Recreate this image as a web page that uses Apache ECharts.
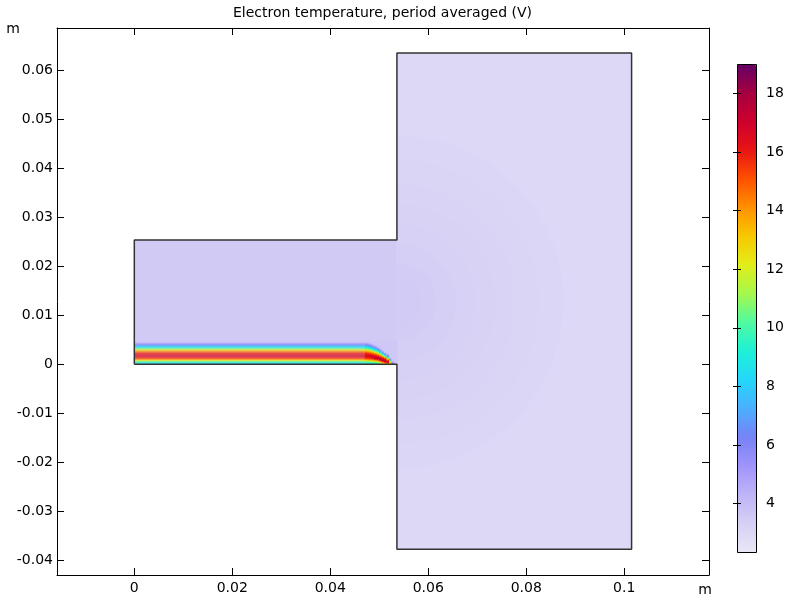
<!DOCTYPE html>
<html>
<head>
<meta charset="utf-8">
<script src="https://cdn.jsdelivr.net/npm/echarts@6/dist/echarts.min.js"></script>
<style>html,body{margin:0;padding:0;background:#fff}#c{width:788px;height:603px}</style>
</head>
<body>
<div id="c"></div>
<script>
// ---- data (metres, volts) ----
const xTicks = [0, 0.02, 0.04, 0.06, 0.08, 0.1];
const yTicks = [-0.04, -0.03, -0.02, -0.01, 0, 0.01, 0.02, 0.03, 0.04, 0.05, 0.06];
const cbTicks = [4, 6, 8, 10, 12, 14, 16, 18];
const teMin = 2.35, teMax = 19.0;

// domain outline
const outlineX = [0, 0.0536, 0.0536, 0.1015, 0.1015, 0.0536, 0.0536, 0, 0];
const outlineY = [0, 0, -0.0378, -0.0378, 0.0636, 0.0636, 0.0254, 0.0254, 0];

// chamber and channel background: [x0, x1, y0, y1, Te]
const chamberBg = [0.0536, 0.1015, -0.0378, 0.0636, 3.0];
const channelBg = [0, 0.0536, 0, 0.0254, 3.55];

// slightly warmer plume spreading from the channel exit into the chamber
const plumeCx = 0.0536, plumeCy = 0.0127;
const plumeR  = [0.034, 0.029, 0.024, 0.020, 0.016, 0.012, 0.008, 0.005];
const plumeTe = [3.06, 3.12, 3.18, 3.24, 3.30, 3.37, 3.44, 3.50];

// hot sheath strip along the lower wall of the channel
const stripEndX = 0.047;
const rowH = 0.0002;
const rowY = [0.0047, 0.0045, 0.0043, 0.0041, 0.0039, 0.0037, 0.0035, 0.0033, 0.0031, 0.0029, 0.0027, 0.0025,
              0.0023, 0.0021, 0.0019, 0.0017, 0.0015, 0.0013, 0.0011, 0.0009, 0.0007, 0.0005, 0.0003, 0.0001];
const stripTe = [3.6, 3.9, 4.6, 5.6, 6.8, 7.8, 8.6, 9.6, 10.8, 12.2, 13.6, 14.6,
                 15.4, 16.0, 16.3, 16.4, 16.3, 15.8, 15.0, 13.8, 12.0, 10.4, 9.4, 8.9];

// rounded end of the strip: column centres and their profiles (same rows as above)
const capW = 0.0005;
const capX = [0.04725, 0.04775, 0.04825, 0.04875, 0.04925, 0.04975, 0.05025,
              0.05075, 0.05125, 0.05175, 0.05225, 0.05275, 0.05325];
const capTe = [
  [3.6, 3.9, 4.6, 5.6, 6.8, 7.8, 8.6, 9.6, 10.8, 12.2, 13.6, 14.6, 15.4, 16.0, 16.3, 16.4, 16.3, 15.8, 15.0, 13.8, 12.0, 10.4, 9.4, 8.9],
  [3.6, 3.75, 4.3, 5.2, 6.3, 7.4, 8.3, 9.2, 10.4, 11.8, 13.2, 14.3, 15.2, 15.9, 16.3, 16.5, 16.4, 15.9, 15.1, 14.0, 12.2, 10.5, 9.4, 8.9],
  [3.6, 3.6, 3.85, 4.5, 5.5, 6.85, 7.85, 8.7, 9.8, 11.1, 12.6, 13.8, 14.8, 15.7, 16.2, 16.5, 16.5, 16.0, 15.3, 14.2, 12.5, 10.8, 9.6, 9.0],
  [3.6, 3.6, 3.6, 3.8, 4.5, 5.5, 6.85, 7.9, 9.0, 10.0, 11.5, 13.0, 14.2, 15.2, 15.9, 16.4, 16.8, 16.7, 15.8, 14.4, 12.7, 10.9, 9.7, 9.1],
  [3.6, 3.6, 3.6, 3.6, 3.8, 4.4, 5.5, 6.9, 8.0, 9.0, 10.4, 11.8, 13.2, 14.5, 15.5, 16.2, 17.0, 17.2, 16.6, 15.0, 13.2, 11.3, 9.9, 9.3],
  [3.6, 3.6, 3.6, 3.6, 3.6, 3.6, 3.9, 4.9, 6.4, 7.7, 8.7, 10.2, 11.6, 13.3, 14.6, 15.8, 16.4, 17.5, 17.1, 15.6, 14.2, 12.2, 10.4, 9.6],
  [3.6, 3.6, 3.6, 3.6, 3.6, 3.6, 3.6, 3.6, 4.2, 5.4, 7.0, 8.3, 9.7, 11.3, 13.0, 14.4, 15.8, 16.4, 17.6, 17.0, 15.5, 13.5, 11.5, 10.5],
  [3.6, 3.6, 3.6, 3.6, 3.6, 3.6, 3.6, 3.6, 3.6, 3.6, 3.9, 5.2, 7.2, 8.6, 10.3, 12.4, 14.2, 15.7, 16.4, 17.5, 17.2, 15.5, 13.5, 12.0],
  [3.6, 3.6, 3.6, 3.6, 3.6, 3.6, 3.6, 3.6, 3.6, 3.6, 3.6, 3.6, 4.2, 6.0, 8.1, 9.9, 12.0, 14.2, 15.8, 16.4, 17.4, 17.0, 15.0, 13.0],
  [3.6, 3.6, 3.6, 3.6, 3.6, 3.6, 3.6, 3.6, 3.6, 3.6, 3.6, 3.6, 3.6, 3.9, 4.8, 6.3, 8.0, 10.0, 12.3, 14.4, 16.0, 16.8, 16.0, 14.0],
  [3.6, 3.6, 3.6, 3.6, 3.6, 3.6, 3.6, 3.6, 3.6, 3.6, 3.6, 3.6, 3.6, 3.6, 3.6, 3.6, 3.6, 4.0, 5.0, 7.0, 9.5, 12.0, 13.5, 13.0],
  [3.6, 3.6, 3.6, 3.6, 3.6, 3.6, 3.6, 3.6, 3.6, 3.6, 3.6, 3.6, 3.6, 3.6, 3.6, 3.6, 3.6, 3.6, 3.6, 3.6, 3.9, 4.5, 5.5, 6.5],
  [3.6, 3.6, 3.6, 3.6, 3.6, 3.6, 3.6, 3.6, 3.6, 3.6, 3.6, 3.6, 3.6, 3.6, 3.6, 3.6, 3.6, 3.6, 3.6, 3.6, 3.6, 3.6, 4.0, 4.3]
];

const cmap = ['#e8e7f5', '#d6d0f5', '#beb4f7', '#a094fa', '#7682f5', '#4bafff', '#23d7fa', '#1ef0d7',
              '#50faa0', '#a5f84b', '#e1ee19', '#f8c800', '#ff9100', '#ff5000', '#e81414', '#cd002d', '#a50041', '#640064'];

// ---- build cells (all items: [x0, x1, y0, y1, Te]) ----
const baseData = [chamberBg.slice()];
const plumeData = plumeR.map((r, i) => [plumeCx, plumeCx + r, plumeCy - r, plumeCy + r, plumeTe[i]]);
const fieldData = [channelBg.slice()];
rowY.forEach((y, i) => fieldData.push([0, stripEndX, y - rowH / 2, y + rowH / 2, stripTe[i]]));
capX.forEach((x, j) => rowY.forEach((y, i) =>
  fieldData.push([x - capW / 2, x + capW / 2, y - rowH / 2, y + rowH / 2, capTe[j][i]])));

function rectItem(params, api) {
  const a = api.coord([api.value(0), api.value(3)]);
  const b = api.coord([api.value(1), api.value(2)]);
  const big = (b[0] - a[0]) > 50;          // background panels: exact edges
  const pad = big ? 0 : 0.8;               // small cells overlap slightly to avoid seams
  return {
    type: 'rect',
    shape: { x: a[0], y: a[1], width: b[0] - a[0] + pad, height: b[1] - a[1] + pad },
    style: { fill: api.visual('color') }
  };
}
function plumeItem(params, api) {
  const c = api.coord([api.value(0), (api.value(2) + api.value(3)) / 2]);
  const e = api.coord([api.value(1), (api.value(2) + api.value(3)) / 2]);
  return {
    type: 'sector',
    shape: { cx: c[0], cy: c[1], r: e[0] - c[0], r0: 0, startAngle: -Math.PI / 2, endAngle: Math.PI / 2, clockwise: true },
    style: { fill: api.visual('color') }
  };
}

const FONT = 'DejaVu Sans';
const labelStyle = { color: '#000', fontSize: 14, fontFamily: FONT };
const fmt = v => String(+v.toFixed(3));

const chart = echarts.init(document.getElementById('c'), null, { renderer: 'canvas' });
chart.setOption({
  animation: false,
  backgroundColor: '#fff',
  grid: [
    { left: 57, right: 79, top: 28, bottom: 28, containLabel: false },
    { left: 737, width: 19, top: 64, height: 488, containLabel: false }
  ],
  xAxis: [
    { gridIndex: 0, type: 'value', position: 'bottom', min: -0.01578, max: 0.1173,
      axisLine: { show: true, onZero: false, lineStyle: { color: '#000', width: 1 } },
      axisTick: { show: true, inside: true, length: 7, customValues: xTicks, lineStyle: { color: '#000' } },
      axisLabel: Object.assign({ show: true, margin: 6, customValues: xTicks, formatter: fmt }, labelStyle),
      splitLine: { show: false } },
    { gridIndex: 0, type: 'value', position: 'top', min: -0.01578, max: 0.1173,
      axisLine: { show: true, onZero: false, lineStyle: { color: '#000', width: 1 } },
      axisTick: { show: true, inside: true, length: 7, customValues: xTicks, lineStyle: { color: '#000' } },
      axisLabel: { show: false }, splitLine: { show: false } },
    { gridIndex: 1, type: 'value', min: 0, max: 1, show: false }
  ],
  yAxis: [
    { gridIndex: 0, type: 'value', position: 'left', min: -0.04306, max: 0.0687,
      axisLine: { show: true, onZero: false, lineStyle: { color: '#000', width: 1 } },
      axisTick: { show: true, inside: true, length: 7, customValues: yTicks, lineStyle: { color: '#000' } },
      axisLabel: Object.assign({ show: true, margin: 4, customValues: yTicks, formatter: fmt }, labelStyle),
      splitLine: { show: false } },
    { gridIndex: 0, type: 'value', position: 'right', min: -0.04306, max: 0.0687,
      axisLine: { show: true, onZero: false, lineStyle: { color: '#000', width: 1 } },
      axisTick: { show: true, inside: true, length: 7, customValues: yTicks, lineStyle: { color: '#000' } },
      axisLabel: { show: false }, splitLine: { show: false } },
    { gridIndex: 1, type: 'value', position: 'right', min: teMin, max: teMax, z: 10,
      axisLine: { show: false },
      axisTick: { show: true, inside: true, length: 4, customValues: cbTicks, lineStyle: { color: '#000' } },
      axisLabel: Object.assign({ show: true, margin: 10, customValues: cbTicks }, labelStyle),
      splitLine: { show: false } },
    { gridIndex: 1, type: 'value', position: 'left', min: teMin, max: teMax, z: 10,
      axisLine: { show: false },
      axisTick: { show: true, inside: true, length: 4, customValues: cbTicks, lineStyle: { color: '#000' } },
      axisLabel: { show: false }, splitLine: { show: false } }
  ],
  visualMap: {
    type: 'continuous', min: teMin, max: teMax, dimension: 4, seriesIndex: [0, 1, 2],
    show: true, calculable: false, hoverLink: false, left: 737, top: 64, itemWidth: 19, itemHeight: 488,
    padding: 0, text: null, z: 1,
    inRange: { color: cmap }
  },
  graphic: [
    { type: 'text', left: 383 - 150, top: 6, z: 100,
      style: { text: 'Electron temperature, period averaged (V)', fill: '#000', font: '14px "DejaVu Sans"', width: 300, align: 'center' } },
    { type: 'text', x: 13, y: 29, z: 100,
      style: { text: 'm', fill: '#000', font: '14px "DejaVu Sans"', align: 'center', verticalAlign: 'middle' } },
    { type: 'text', x: 705, y: 590, z: 100,
      style: { text: 'm', fill: '#000', font: '14px "DejaVu Sans"', align: 'center', verticalAlign: 'middle' } },
    { type: 'rect', shape: { x: 737.5, y: 64.5, width: 19, height: 488 }, z: 100,
      style: { fill: 'none', stroke: '#000', lineWidth: 1 } }
  ],
  series: [
    { type: 'custom', name: 'chamber', xAxisIndex: 0, yAxisIndex: 0, data: baseData, renderItem: rectItem,
      encode: { x: [0, 1], y: [2, 3] }, silent: true, z: 1 },
    { type: 'custom', name: 'plume', xAxisIndex: 0, yAxisIndex: 0, data: plumeData, renderItem: plumeItem,
      encode: { x: [0, 1], y: [2, 3] }, silent: true, z: 2 },
    { type: 'custom', name: 'channel', xAxisIndex: 0, yAxisIndex: 0, data: fieldData, renderItem: rectItem,
      encode: { x: [0, 1], y: [2, 3] }, silent: true, z: 3 },
    { type: 'line', name: 'outline', xAxisIndex: 0, yAxisIndex: 0, z: 5,
      data: outlineX.map((x, i) => [x, outlineY[i]]), symbol: 'none', silent: true,
      lineStyle: { color: '#333', width: 1.5 } }
  ]
});
</script>
</body>
</html>
